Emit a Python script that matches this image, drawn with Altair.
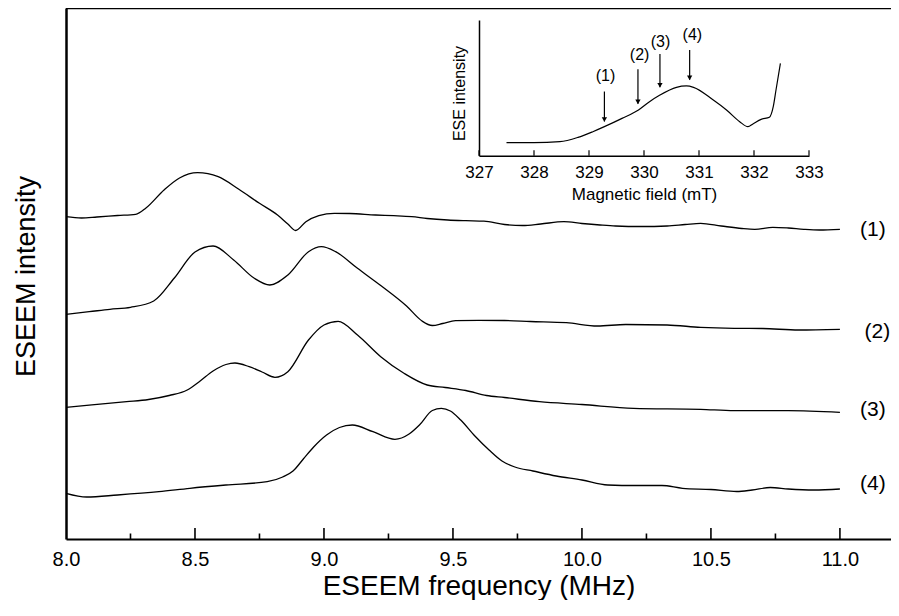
import altair as alt
import pandas as pd

# ---------------- main ESEEM traces (frequency MHz, intensity in arbitrary units) ----------------
t1_f = [8.00, 8.06, 8.12, 8.20, 8.27, 8.31, 8.38, 8.44, 8.51, 8.59, 8.67, 8.75, 8.82, 8.86, 8.89,
        8.93, 8.98, 9.04, 9.10, 9.20, 9.27, 9.34, 9.40, 9.48, 9.55, 9.62, 9.70, 9.77, 9.84, 9.93,
        10.00, 10.07, 10.13, 10.23, 10.33, 10.40, 10.46, 10.54, 10.62, 10.67, 10.74, 10.80, 10.86,
        10.92, 11.00]
t1_v = [322.3, 321.0, 322.0, 323.5, 324.7, 331.0, 349.0, 361.0, 366.3, 362.3, 349.7, 335.7, 324.0,
        315.0, 308.5, 317.3, 323.3, 325.7, 325.5, 324.0, 323.3, 322.3, 320.5, 319.0, 318.3, 317.8,
        314.5, 313.5, 315.0, 317.3, 315.5, 314.0, 313.0, 312.5, 313.0, 314.5, 315.7, 313.0, 310.5,
        309.7, 311.7, 311.0, 309.7, 309.0, 309.7]

t2_f = [8.00, 8.09, 8.17, 8.25, 8.34, 8.42, 8.50, 8.57, 8.65, 8.73, 8.79, 8.86, 8.94, 8.99, 9.045,
        9.13, 9.22, 9.32, 9.38, 9.42, 9.46, 9.51, 9.60, 9.70, 9.80, 9.94, 10.06, 10.17, 10.33, 10.46,
        10.59, 10.70, 10.84, 11.00]
t2_v = [224.7, 227.3, 229.7, 231.7, 238.0, 261.0, 287.0, 293.0, 279.0, 260.7, 254.0, 264.0, 287.3,
        292.3, 287.3, 270.7, 253.5, 233.0, 218.0, 213.5, 215.5, 218.3, 218.7, 218.5, 217.5, 216.3,
        213.0, 214.5, 214.0, 211.7, 210.7, 210.5, 209.0, 209.7]

t3_f = [8.00, 8.10, 8.235, 8.32, 8.40, 8.47, 8.52, 8.57, 8.62, 8.655, 8.71, 8.76, 8.81, 8.86, 8.94,
        9.00, 9.055, 9.13, 9.22, 9.31, 9.40, 9.47, 9.55, 9.63, 9.70, 9.835, 10.00, 10.20, 10.46,
        10.59, 10.80, 11.00]
t3_v = [131.7, 134.2, 137.3, 139.5, 143.5, 149.0, 158.0, 168.0, 174.5, 176.0, 172.3, 167.0, 161.7,
        167.3, 199.0, 214.0, 217.7, 204.0, 182.3, 165.7, 154.0, 151.5, 148.5, 143.5, 141.5, 137.3,
        134.5, 130.7, 129.7, 128.3, 128.3, 126.7]

t4_f = [8.00, 8.08, 8.20, 8.36, 8.48, 8.62, 8.78, 8.84, 8.88, 8.92, 8.96, 9.01, 9.06, 9.11, 9.19,
        9.275, 9.33, 9.37, 9.42, 9.455, 9.49, 9.53, 9.585, 9.64, 9.69, 9.74, 9.81, 9.90, 10.00,
        10.10, 10.21, 10.31, 10.39, 10.50, 10.60, 10.66, 10.73, 10.80, 10.90, 11.00]
t4_v = [45.7, 42.0, 44.0, 47.3, 50.7, 54.0, 57.3, 62.0, 68.0, 80.0, 92.0, 104.0, 111.5, 114.0, 107.3,
        99.7, 105.0, 114.0, 128.5, 130.7, 128.0, 119.0, 103.0, 89.0, 78.0, 72.0, 68.0, 63.0, 59.0,
        54.0, 53.5, 53.5, 50.7, 49.5, 47.5, 49.0, 51.5, 50.0, 49.0, 50.0]

trace_names = ["(1)", "(2)", "(3)", "(4)"]
label_f = [11.128, 11.145, 11.128, 11.128]
label_v = [309.0, 207.3, 129.0, 55.0]

major_ticks = [8.5, 9.0, 9.5, 10.0, 10.5, 11.0]
minor_ticks = [8.25, 8.75, 9.25, 9.75, 10.25, 10.75]
x_labels = [8.0, 8.5, 9.0, 9.5, 10.0, 10.5, 11.0]

# ---------------- inset: ESE field sweep ----------------
ins_b = [327.5, 328.0, 328.47, 328.8, 329.07, 329.28, 329.6, 329.9, 330.1, 330.29, 330.59, 330.77,
         330.9, 331.26, 331.5, 331.74, 331.89, 331.98, 332.13, 332.28, 332.35, 332.4, 332.48]
ins_e = [0.096, 0.096, 0.103, 0.135, 0.177, 0.214, 0.275, 0.337, 0.398, 0.447, 0.504, 0.514,
         0.504, 0.410, 0.337, 0.251, 0.214, 0.234, 0.268, 0.283, 0.361, 0.484, 0.681]
arrow_b = [329.28, 329.89, 330.29, 330.83]
arrow_top = [0.473, 0.637, 0.750, 0.779]
arrow_tip = [0.252, 0.382, 0.505, 0.559]
arrow_lab_b = [329.3, 329.92, 330.3, 330.88]
arrow_lab_e = [0.588, 0.743, 0.840, 0.890]
ins_ticks = [327, 328, 329, 330, 331, 332, 333]

XMIN, XMAX = 8.0, 11.198
YMAX = 531
FONT = "Liberation Sans"

rows = []
for name, fs, vs in zip(trace_names, [t1_f, t2_f, t3_f, t4_f], [t1_v, t2_v, t3_v, t4_v]):
    for f, v in zip(fs, vs):
        rows.append({"trace": name, "f": f, "v": v})
traces = pd.DataFrame(rows)
labels_df = pd.DataFrame({"f": label_f, "v": label_v, "lab": trace_names})
major_df = pd.DataFrame({"f": major_ticks})
minor_df = pd.DataFrame({"f": minor_ticks})

xscale = alt.Scale(domain=[XMIN, XMAX], nice=False, zero=False)
yscale = alt.Scale(domain=[0, YMAX], nice=False, zero=False)

xaxis = alt.Axis(values=x_labels, format=".1f", ticks=False, grid=False, labelFlush=False,
                 labelOverlap=False, labelFontSize=20, labelPadding=10, domainWidth=2.2,
                 title="ESEEM frequency (MHz)", titleFontSize=28, titleFontWeight="normal",
                 titleY=55, titleBaseline="alphabetic")
yaxis = alt.Axis(labels=False, ticks=False, grid=False, domainWidth=2.5,
                 title="ESEEM intensity", titleFontSize=27, titleFontWeight="normal",
                 titleX=-40, titleY=268, titleBaseline="middle", titleAngle=270)

lines = alt.Chart(traces).mark_line(color="black", strokeWidth=1.3, interpolate="monotone").encode(
    x=alt.X("f:Q", scale=xscale, axis=xaxis),
    y=alt.Y("v:Q", scale=yscale, axis=yaxis),
    detail="trace:N",
)
trace_labels = alt.Chart(labels_df).mark_text(fontSize=21, color="black", font=FONT).encode(
    x=alt.X("f:Q"), y=alt.Y("v:Q"), text="lab:N"
)
major_rules = alt.Chart(major_df).mark_rule(color="black", strokeWidth=1.6).encode(
    x=alt.X("f:Q"), y=alt.datum(0), y2=alt.datum(11)
)
minor_rules = alt.Chart(minor_df).mark_rule(color="black", strokeWidth=1.6).encode(
    x=alt.X("f:Q"), y=alt.datum(0), y2=alt.datum(5.5)
)
top_rule = alt.Chart(pd.DataFrame({"f": [XMIN]})).mark_rule(color="black", strokeWidth=2.5).encode(
    x=alt.X("f:Q"), x2=alt.datum(XMAX), y=alt.datum(YMAX)
)
main = alt.layer(lines, trace_labels, major_rules, minor_rules, top_rule)

# inset
ins_df = pd.DataFrame({"b": ins_b, "e": ins_e})
arrows_df = pd.DataFrame({"b": arrow_b, "e": arrow_tip, "e0": arrow_top})
alab_df = pd.DataFrame({"b": arrow_lab_b, "e": arrow_lab_e, "lab": trace_names})
itick_df = pd.DataFrame({"b": ins_ticks})

ixscale = alt.Scale(domain=[327, 333], range=[413, 743], nice=False, zero=False)
iyscale = alt.Scale(domain=[0, 1], range=[147.7, 12], nice=False, zero=False)
ixaxis = alt.Axis(orient="bottom", offset=-383.3, values=ins_ticks, format="d", ticks=False,
                  grid=False, labelFlush=False, labelOverlap=False, labelFontSize=17,
                  labelPadding=9, domainWidth=1.5, title="Magnetic field (mT)", titleFontSize=17,
                  titleFontWeight="normal", titleY=44, titleBaseline="alphabetic")
iyaxis = alt.Axis(orient="left", offset=-413, labels=False, ticks=False, grid=False,
                  domainWidth=1.5, title="ESE intensity", titleFontSize=16,
                  titleFontWeight="normal", titleX=-20, titleY=85, titleBaseline="middle",
                  titleAngle=270)

icurve = alt.Chart(ins_df).mark_line(color="black", strokeWidth=1.2, interpolate="monotone").encode(
    x=alt.X("b:Q", scale=ixscale, axis=ixaxis),
    y=alt.Y("e:Q", scale=iyscale, axis=iyaxis),
)
iarrows = alt.Chart(arrows_df).mark_rule(color="black", strokeWidth=1.2).encode(
    x=alt.X("b:Q"), y=alt.Y("e:Q"), y2="e0:Q"
)
iheads = alt.Chart(arrows_df).mark_point(shape="triangle-down", filled=True, color="black",
                                         size=28, opacity=1, yOffset=-2).encode(
    x=alt.X("b:Q"), y=alt.Y("e:Q")
)
ilabels = alt.Chart(alab_df).mark_text(fontSize=16, color="black", font=FONT).encode(
    x=alt.X("b:Q"), y=alt.Y("e:Q"), text="lab:N"
)
iticks = alt.Chart(itick_df).mark_rule(color="black", strokeWidth=1.2).encode(
    x=alt.X("b:Q"), y=alt.datum(0), y2=alt.datum(0.04)
)
inset = alt.layer(icurve, iarrows, iheads, ilabels, iticks)

chart = alt.layer(main, inset).resolve_scale(x="independent", y="independent").properties(
    width=825, height=YMAX,
    autosize=alt.AutoSizeParams(type="none"),
    padding={"left": 58, "top": 0, "right": 0, "bottom": 61},
).configure(font=FONT).configure_view(stroke=None).configure_axis(
    labelColor="black", titleColor="black", domainColor="black", labelFont=FONT, titleFont=FONT
)

chart.save("out.html", embed_options={"renderer": "svg", "actions": False})
